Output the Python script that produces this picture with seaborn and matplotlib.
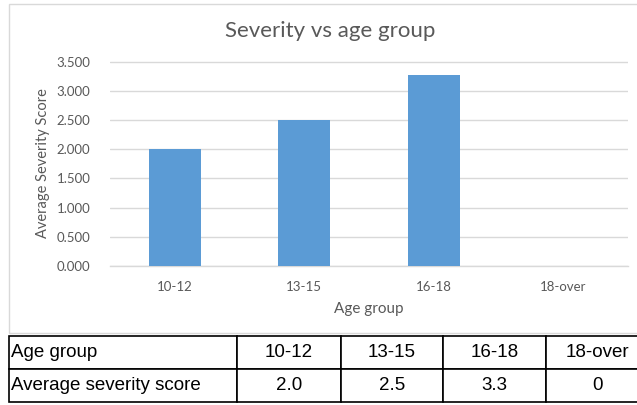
import matplotlib
matplotlib.use("Agg")
import matplotlib.pyplot as plt
from matplotlib.patches import Rectangle
from matplotlib import font_manager
import seaborn as sns
import pandas as pd

# Chart data
age_groups = ["10-12", "13-15", "16-18", "18-over"]
avg_severity = [2.0, 2.5, 3.27, 0.0]
y_ticks = [0.0, 0.5, 1.0, 1.5, 2.0, 2.5, 3.0, 3.5]

# Summary table contents
table_header = "Age group"
table_row_label = "Average severity score"
table_values = [f"{v:.1f}" if v else "0" for v in avg_severity]

W, H = 637, 405
sns.set_theme(style="white")
chart_font = ["Lato", "DejaVu Sans"]
names = {f.name for f in font_manager.fontManager.ttflist}
table_font = ["Liberation Sans Narrow"] if "Liberation Sans Narrow" in names else ["Liberation Sans", "DejaVu Sans"]
plt.rcParams["font.family"] = chart_font

fig = plt.figure(figsize=(W / 100, H / 100), dpi=100)
fig.patch.set_facecolor("white")

def fx(px):
    return px / W

def fy(py):
    return 1 - py / H

# chart area frame
fig.add_artist(Rectangle((fx(9), fy(333)), fx(660) - fx(9), fy(4) - fy(333),
                         transform=fig.transFigure, fill=False,
                         edgecolor="#d9d9d9", linewidth=1.0))

# plot area
y0_px, unit_px = 266.0, 58.37
ymax = 3.55
top_px = y0_px - ymax * unit_px
ax = fig.add_axes([fx(110), fy(y0_px), fx(628) - fx(110), fy(top_px) - fy(y0_px)])

df = pd.DataFrame({"Age group": age_groups, "Average Severity Score": avg_severity})
sns.barplot(data=df, x="Age group", y="Average Severity Score", color="#5b9bd5",
            width=0.4, saturation=1, ax=ax, zorder=3)
for p in ax.patches:
    p.set_edgecolor("none")

ax.set_ylim(0, ymax)
ax.set_xlim(-0.5, len(age_groups) - 0.5)
ax.set_yticks(y_ticks)
ax.set_yticklabels([f"{t:.3f}" for t in y_ticks])
ax.yaxis.grid(True, color="#d9d9d9", linewidth=1.0, zorder=0)
ax.xaxis.grid(False)
for s in ["top", "right", "left"]:
    ax.spines[s].set_visible(False)
ax.spines["bottom"].set_color("#d9d9d9")
ax.spines["bottom"].set_linewidth(1.0)
ax.tick_params(axis="y", length=0, pad=14, labelsize=9.5, labelcolor="#595959")
ax.tick_params(axis="x", length=0, pad=11, labelsize=9.5, labelcolor="#595959")
ax.set_xlabel("Age group", fontsize=11, color="#595959", labelpad=6)
ax.set_ylabel("")
fig.text(fx(43), fy(163), "Average Severity Score", rotation=90, ha="center", va="center",
         fontsize=10.5, color="#595959")
fig.text(fx(330), fy(31), "Severity vs age group", ha="center", va="center",
         fontsize=16, color="#595959")

# summary table below the chart
tax = fig.add_axes([fx(9), fy(402), fx(649) - fx(9), fy(336) - fy(402)])
tax.axis("off")
col_px = [228, 104, 102, 103, 103]
total = sum(col_px)
cells = [[table_header] + age_groups, [table_row_label] + table_values]
tbl = tax.table(cellText=cells, colWidths=[c / total for c in col_px],
                bbox=[0, 0, 1, 1], cellLoc="center")
tbl.auto_set_font_size(False)
for (r, c), cell in tbl.get_celld().items():
    cell.set_edgecolor("black")
    cell.set_linewidth(1.2)
    cell.set_facecolor("white")
    txt = cell.get_text()
    txt.set_fontsize(13.5)
    txt.set_family(table_font)
    txt.set_color("black")
    if c == 0:
        txt.set_ha("left")
        cell.PAD = 0.01

fig.savefig("out.png", dpi=100, facecolor="white")
